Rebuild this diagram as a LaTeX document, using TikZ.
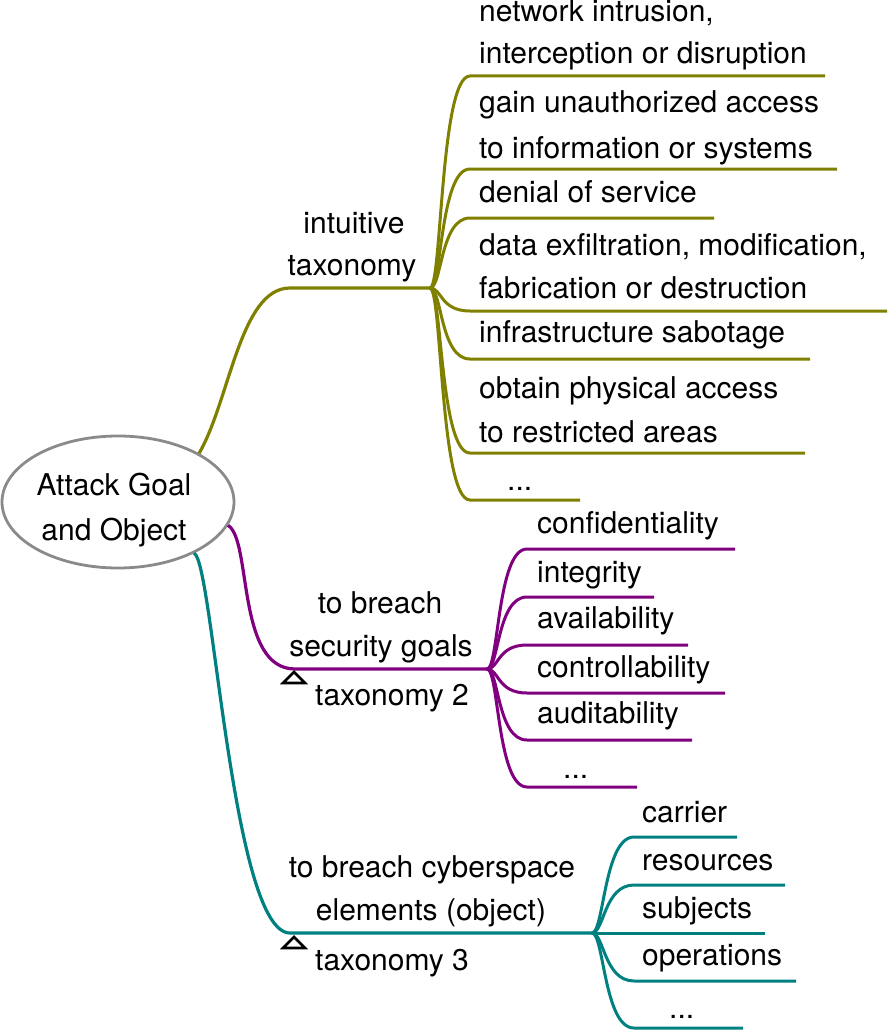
\documentclass[tikz,border=0pt]{standalone}
\usepackage{fontspec}
\setmainfont{TeX Gyre Heros}
\usetikzlibrary{shapes.geometric}
\definecolor{olivebr}{HTML}{808000}
\definecolor{purplebr}{HTML}{800080}
\definecolor{tealbr}{HTML}{008080}
\definecolor{rootgray}{HTML}{8A8A8A}
\begin{document}
\begin{tikzpicture}[x=1pt,y=-1pt,
  txt/.style={inner sep=0pt, font=\fontsize{30}{36}\selectfont, anchor=base west},
  ctxt/.style={txt, anchor=base},
  mainbr/.style={line width=3.2pt},
  subbr/.style={line width=3pt},
  tri/.style={line width=2.6pt, line join=miter, draw=black},
  rootbox/.style={draw=rootgray, line width=2.8pt, ellipse, inner sep=0pt,
    minimum width=232pt, minimum height=132pt}]
\useasboundingbox (0,0) rectangle (887,1030);

% root
\node[rootbox] (root) at (118,502) {};
\node[ctxt] (rt1) at (114,495) {Attack Goal};
\node[ctxt] (rt2) at (114,540) {and Object};

% hubs
\coordinate (ohub) at (430,288);
\coordinate (phub) at (487,669);
\coordinate (thub) at (592,933);

% main branches
\draw[mainbr, olivebr] (root.31) .. controls (230,400) and (240,288) .. (290,288) -- (ohub);
\draw[mainbr, purplebr] (root.-12) .. controls (252,540) and (236,669) .. (295,669) -- (phub);
\draw[mainbr, tealbr] (root.-34) .. controls (213,560) and (232,933) .. (290,933) -- (thub);

% branch labels
\node[ctxt] (b1a) at (354,233) {intuitive};
\node[ctxt] (b1b) at (352,275) {taxonomy};
\node[ctxt] (b2a) at (380,613) {to breach};
\node[ctxt] (b2b) at (381,656) {security goals};
\node[txt] (b2c) at (315,705) {taxonomy 2};
\node[ctxt] (b3a) at (432,877) {to breach cyberspace};
\node[ctxt] (b3b) at (431,920) {elements (object)};
\node[txt] (b3c) at (315,970) {taxonomy 3};

% triangles
\draw[tri] (283,683) -- (305,683) -- (294,672) -- cycle;
\draw[tri] (283,948) -- (305,948) -- (294,937) -- cycle;

% olive items
\node[txt] (o1a) at (479,22) {network intrusion,};
\node[txt] (o1b) at (479,64) {interception or disruption};
\node[txt] (o2a) at (479,113) {gain unauthorized access};
\node[txt] (o2b) at (479,158) {to information or systems};
\node[txt] (o3) at (479,202) {denial of service};
\node[txt] (o4a) at (479,255) {data exfiltration, modification,};
\node[txt] (o4b) at (479,298) {fabrication or destruction};
\node[txt] (o5) at (479,342) {infrastructure sabotage};
\node[txt] (o6a) at (479,398) {obtain physical access};
\node[txt] (o6b) at (479,442) {to restricted areas};
\node[txt] (o7) at (507,490) {...};

\foreach \y/\e in {76/825,169/837,218/714,311/887,359/810,453/805,500/580}{
  \draw[subbr, olivebr] (ohub) .. controls +(12,0) and +(-30,0) .. (470,\y) -- (\e,\y);
}

% purple items
\node[txt] (p1) at (537,533) {confidentiality};
\node[txt] (p2) at (537,582) {integrity};
\node[txt] (p3) at (537,628) {availability};
\node[txt] (p4) at (537,677) {controllability};
\node[txt] (p5) at (537,723) {auditability};
\node[txt] (p6) at (563,778) {...};

\foreach \y/\e in {549/735,597/654,645/688,693/725,740/692,787/637}{
  \draw[subbr, purplebr] (phub) .. controls +(12,0) and +(-30,0) .. (527,\y) -- (\e,\y);
}

% teal items
\node[txt] (t1) at (642,822) {carrier};
\node[txt] (t2) at (642,870) {resources};
\node[txt] (t3) at (642,918) {subjects};
\node[txt] (t4) at (642,965) {operations};
\node[txt] (t5) at (669,1018) {...};

\foreach \y/\e in {837/737,885/785,981/796,1028/743}{
  \draw[subbr, tealbr] (thub) .. controls +(12,0) and +(-30,0) .. (634,\y) -- (\e,\y);
}
\draw[subbr, tealbr] (thub) -- (765,933);
\end{tikzpicture}
\end{document}
